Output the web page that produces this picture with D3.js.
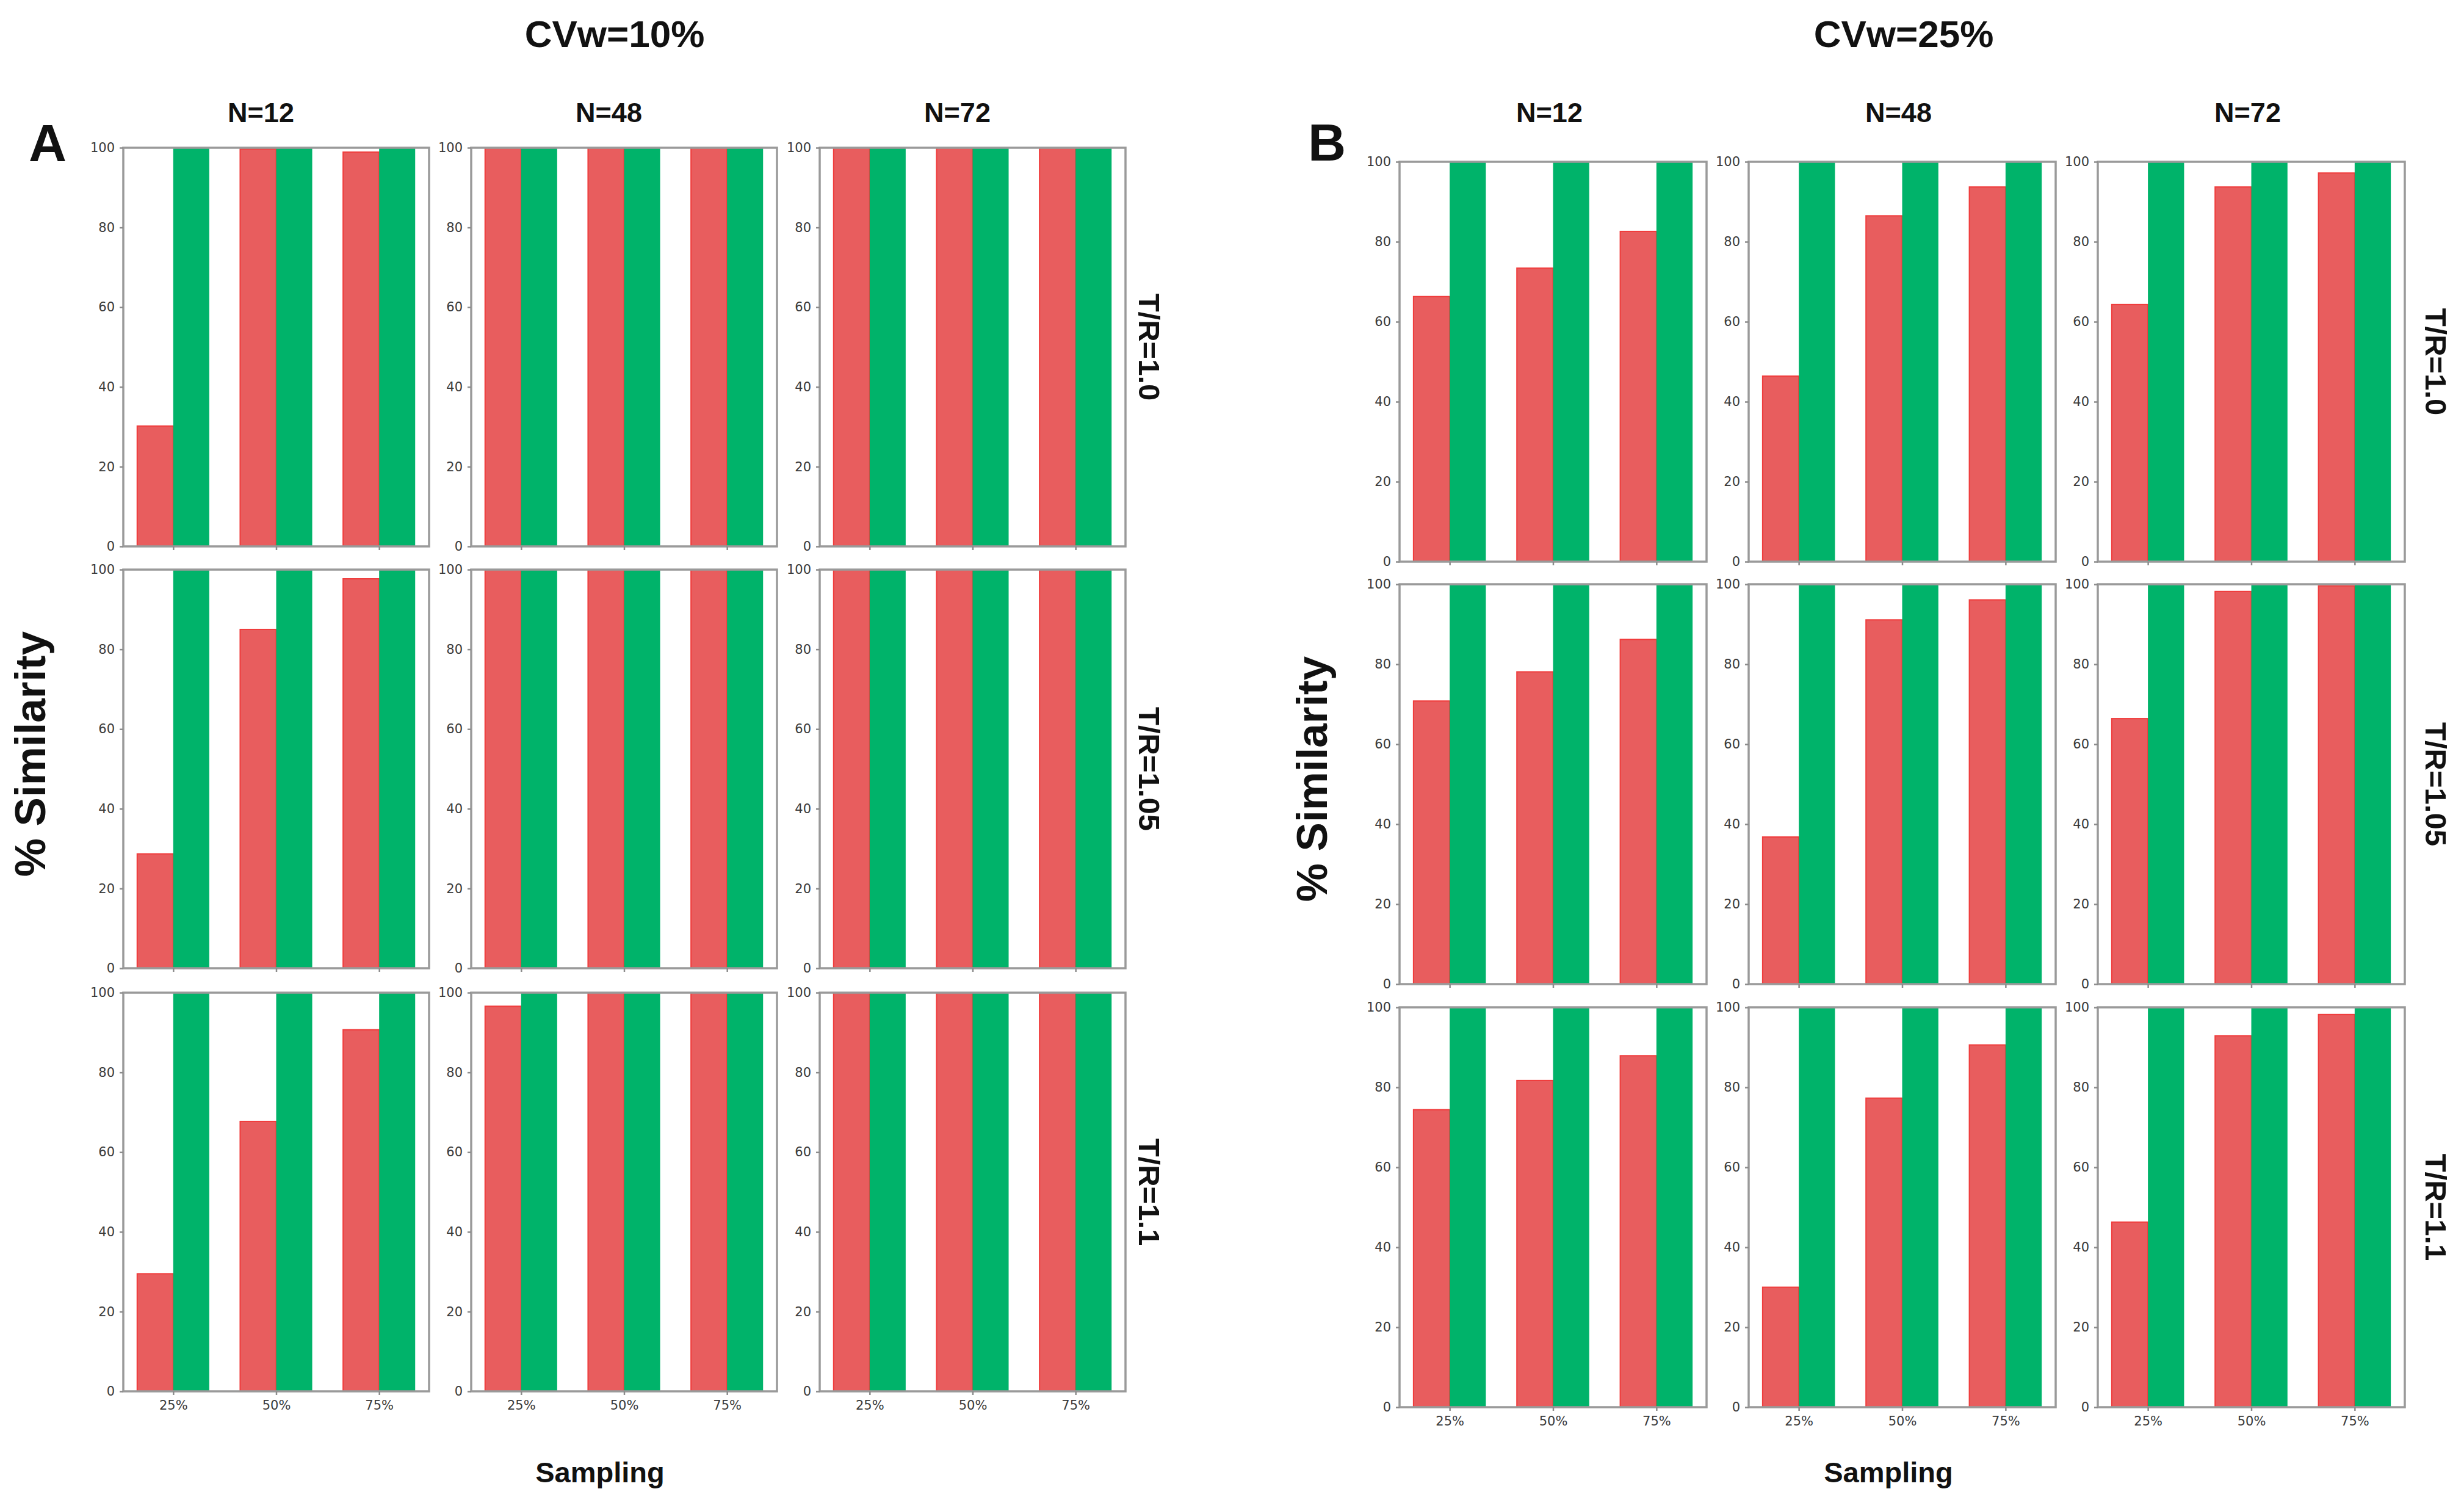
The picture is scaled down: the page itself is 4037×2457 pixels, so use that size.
<!DOCTYPE html>
<html>
<head>
<meta charset="utf-8">
<script src="https://cdn.jsdelivr.net/npm/d3@7"></script>
<style>
  body { margin: 0; background: #fff; }
  .tick text { font-family: "DejaVu Sans", sans-serif; fill: #3a3a3a; }
  .tick line { stroke: #8c8c8c; stroke-width: 2.5; }
  .lbl { font-family: "Liberation Sans", Arial, sans-serif; font-weight: bold; fill: #111; }
</style>
</head>
<body>
<div id="chart"></div>
<script>
// categories
const samplings = ["25%", "50%", "75%"];
const sampleSizes = ["N=12", "N=48", "N=72"];
const ratios = ["T/R=1.0", "T/R=1.05", "T/R=1.1"];
const cvTitles = ["CVw=10%", "CVw=25%"];
const panelLetters = ["A", "B"];
const yTicks = [0, 20, 40, 60, 80, 100];

// red series, [row T/R][column N][sampling]
const redA = [
    [[30.2, 99.7, 98.9], [100, 100, 100], [100, 100, 100]],
    [[28.7, 85.0, 97.7], [100, 100, 100], [100, 100, 100]],
    [[29.5, 67.7, 90.7], [96.6, 100, 100], [100, 100, 100]]
];
const redB = [
    [[66.3, 73.4, 82.6], [46.4, 86.5, 93.7], [64.3, 93.7, 97.2]],
    [[70.8, 78.1, 86.2], [36.8, 91.1, 96.1], [66.4, 98.2, 99.6]],
    [[74.4, 81.7, 87.9], [30.0, 77.3, 90.6], [46.3, 92.9, 98.2]]
];
// green series
const greenA = [
    [[100, 100, 100], [100, 100, 100], [100, 100, 100]],
    [[100, 100, 100], [100, 100, 100], [100, 100, 100]],
    [[100, 100, 100], [100, 100, 100], [100, 100, 100]]
];
const greenB = [
    [[100, 100, 100], [100, 100, 100], [100, 100, 100]],
    [[100, 100, 100], [100, 100, 100], [100, 100, 100]],
    [[100, 100, 100], [100, 100, 100], [100, 100, 100]]
];

const W = 4037, H = 2457;
const redFill = "#e85d5e", redEdge = "#f03c3c", greenFill = "#00b36a";

// layout of the two panels
const panels = [
    { red: redA, green: greenA, cols: [202, 772, 1343], rows: [242, 933, 1626], w: 501, h: 653,
      titleX: 1007, nShift: -25, rowLabelGap: 40, letterX: 78, letterY: 264, simX: 48, simY: 1235, sampX: 983 },
    { red: redB, green: greenB, cols: [2293, 2865, 3437], rows: [265, 957, 1650], w: 503, h: 655,
      titleX: 3119, nShift: -6, rowLabelGap: 52, letterX: 2174, letterY: 263, simX: 2148, simY: 1276, sampX: 3094 }
];

const svg = d3.select("#chart").append("svg")
    .attr("width", W).attr("height", H)
    .style("background", "white");

panels.forEach((p, pi) => {
    let g = svg.append("g");

    let x = d3.scaleLinear().domain([-0.485, 2.485]).range([0, p.w]);
    let y = d3.scaleLinear().domain([0, 100]).range([p.h, 0]);
    let bw = x(0.35) - x(0);

    // panel title, letter, axis labels
    g.append("text").attr("class", "lbl")
        .attr("x", p.titleX).attr("y", 77)
        .attr("text-anchor", "middle").attr("font-size", 62)
        .text(cvTitles[pi]);
    g.append("text").attr("class", "lbl")
        .attr("x", p.letterX).attr("y", p.letterY)
        .attr("text-anchor", "middle").attr("font-size", 86)
        .text(panelLetters[pi]);
    g.append("text").attr("class", "lbl")
        .attr("transform", `translate(${p.simX},${p.simY}) rotate(-90)`)
        .attr("dy", "0.36em")
        .attr("text-anchor", "middle").attr("font-size", 71)
        .text("% Similarity");
    g.append("text").attr("class", "lbl")
        .attr("x", p.sampX).attr("y", 2428)
        .attr("text-anchor", "middle").attr("font-size", 47)
        .text("Sampling");

    p.cols.forEach((cx, ci) => {
        g.append("text").attr("class", "lbl")
            .attr("x", cx + p.w / 2 + p.nShift).attr("y", 200)
            .attr("text-anchor", "middle").attr("font-size", 45)
            .text(sampleSizes[ci]);
    });

    p.rows.forEach((ry, ri) => {
        let lastCol = p.cols[p.cols.length - 1];
        g.append("text").attr("class", "lbl")
            .attr("transform", `translate(${lastCol + p.w + p.rowLabelGap},${ry + p.h / 2}) rotate(90)`)
            .attr("dy", "0.36em")
            .attr("text-anchor", "middle").attr("font-size", 49)
            .text(ratios[ri]);

        p.cols.forEach((cx, ci) => {
            let ax = g.append("g").attr("transform", `translate(${cx},${ry})`);

            let reds = p.red[ri][ci];
            let greens = p.green[ri][ci];

            ax.selectAll(".red").data(reds).enter().append("rect")
                .attr("class", "red")
                .attr("x", (d, i) => x(i) - bw)
                .attr("y", d => y(d))
                .attr("width", bw)
                .attr("height", d => y(0) - y(d))
                .attr("fill", redFill)
                .attr("stroke", redEdge)
                .attr("stroke-width", 2);

            ax.selectAll(".green").data(greens).enter().append("rect")
                .attr("class", "green")
                .attr("x", (d, i) => x(i))
                .attr("y", d => y(d))
                .attr("width", bw)
                .attr("height", d => y(0) - y(d))
                .attr("fill", greenFill);

            // frame
            ax.append("rect")
                .attr("x", 0).attr("y", 0)
                .attr("width", p.w).attr("height", p.h)
                .attr("fill", "none")
                .attr("stroke", "#9a9a9a")
                .attr("stroke-width", 3.5);

            let yAxis = ax.append("g")
                .call(d3.axisLeft(y).tickValues(yTicks).tickSize(6).tickPadding(8));
            yAxis.select(".domain").remove();
            yAxis.selectAll(".tick text").attr("font-size", 21);

            let isBottom = ri === p.rows.length - 1;
            let xAxis = ax.append("g")
                .attr("transform", `translate(0,${p.h})`)
                .call(d3.axisBottom(x).tickValues([0, 1, 2])
                    .tickFormat(i => isBottom ? samplings[i] : "")
                    .tickSize(6).tickPadding(9));
            xAxis.select(".domain").remove();
            xAxis.selectAll(".tick text").attr("font-size", 21);
        });
    });
});
</script>
</body>
</html>
